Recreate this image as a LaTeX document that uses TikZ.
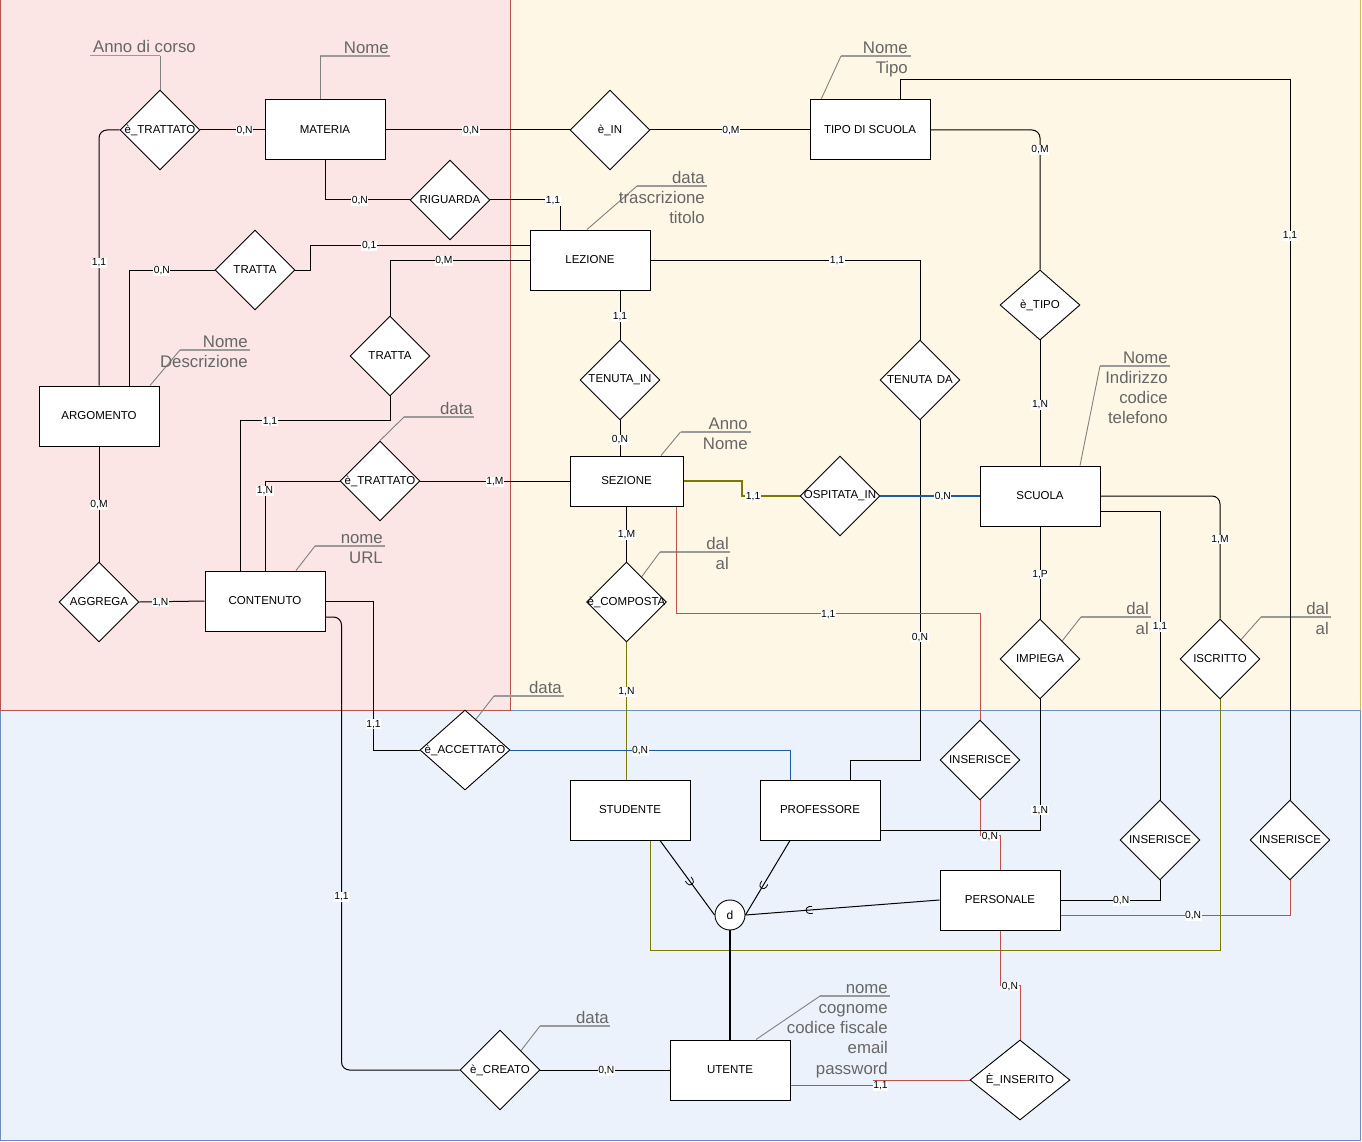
\documentclass[tikz,border=0pt]{standalone}
\usepackage{fontspec}
\setmainfont{Liberation Sans}
\usetikzlibrary{shapes.geometric,calc,decorations.markings}

\definecolor{pinkfill}{HTML}{FBE5E5}
\definecolor{pinkedge}{HTML}{B85450}
\definecolor{yelfill}{HTML}{FFF7E6}
\definecolor{yeledge}{HTML}{D6B656}
\definecolor{bluefill}{HTML}{ECF2FC}
\definecolor{blueedge}{HTML}{6C8EBF}
\definecolor{attrgray}{HTML}{666666}
\definecolor{ulgray}{HTML}{9A9A9A}
\definecolor{leadgray}{HTML}{808080}
\definecolor{olivec}{HTML}{7A7A00}
\definecolor{bluec}{HTML}{1A5CA8}
\definecolor{redc}{HTML}{C0504D}

\pgfdeclarelayer{bg}
\pgfdeclarelayer{edges}
\pgfsetlayers{bg,edges,main}

\tikzset{
  entity/.style={rectangle, draw=black, fill=white, line width=1pt,
    minimum width=120pt, minimum height=60pt, inner sep=0pt,
    font=\fontsize{11.5}{13}\selectfont},
  rel/.style={diamond, draw=black, fill=white, line width=0.9pt,
    minimum width=80pt, minimum height=80pt, inner sep=0pt,
    font=\fontsize{11.5}{13}\selectfont},
  card/.style={fill=white, inner sep=0.6pt, text=black, sharp corners, yshift=-1pt,
    font=\fontsize{10.3}{11}\selectfont},
  ulbox/.style={minimum width=70pt, minimum height=0pt, inner sep=0pt, outer sep=0pt},
  attr/.style={anchor=north east, align=right, inner sep=0pt, text=attrgray,
    font=\fontsize{16.8}{20.2}\selectfont},
  ulline/.style={draw=ulgray, line width=1.6pt},
  leader/.style={draw=leadgray, line width=0.9pt},
  conn/.style={draw=black, line width=1pt},
  subset/.style={postaction={decorate, decoration={markings,
    mark=at position #1 with {\draw[line width=0.8pt, sharp corners]
      (-3pt,3.5pt) -- (0pt,3.5pt) arc[start angle=90, end angle=-90, radius=3.5pt] -- (-3pt,-3.5pt);}}}}
}

\begin{document}
\begin{tikzpicture}[x=1pt, y=-1pt]
\useasboundingbox (0,0) rectangle (1362,1142);

% coloured areas
\begin{pgfonlayer}{bg}
  \filldraw[fill=yelfill, draw=yeledge, line width=1pt] (510,0) rectangle (1360,710);
  \filldraw[fill=bluefill, draw=blueedge, line width=1pt] (0,710) rectangle (1360,1140);
  \filldraw[fill=pinkfill, draw=pinkedge, line width=1pt] (0,0) rectangle (510,710);
\end{pgfonlayer}

% entities
\node[entity] (mat)  at (325,130) {MATERIA};
\node[entity] (tipo) at (870,130) {TIPO DI SCUOLA};
\node[entity] (lez)  at (590,260) {LEZIONE};
\node[entity] (arg)  at (99,416)  {ARGOMENTO};
\node[entity, minimum width=113pt, minimum height=50pt] (sez) at (626.5,481) {SEZIONE};
\node[entity] (scu)  at (1040,496) {SCUOLA};
\node[entity] (cont) at (265,601) {CONTENUTO};
\node[entity] (stud) at (630,810) {STUDENTE};
\node[entity] (prof) at (820,810) {PROFESSORE};
\node[entity] (pers) at (1000,900) {PERSONALE};
\node[entity] (ute)  at (730,1070) {UTENTE};

% relationships
\node[rel] (tr1)  at (160,130)  {\makebox[0pt]{è\_TRATTATO}};
\node[rel] (rig)  at (450,200)  {\makebox[0pt]{RIGUARDA}};
\node[rel] (tra1) at (255,270)  {\makebox[0pt]{TRATTA}};
\node[rel] (ein)  at (610,130)  {\makebox[0pt]{è\_IN}};
\node[rel] (tra2) at (390,356)  {\makebox[0pt]{TRATTA}};
\node[rel] (tr2)  at (380,481)  {\makebox[0pt]{è\_TRATTATO}};
\node[rel] (agg)  at (99,602)   {\makebox[0pt]{AGGREGA}};
\node[rel] (tin)  at (620,380)  {\makebox[0pt]{TENUTA\_IN}};
\node[rel] (tda)  at (920,380)  {\makebox[0pt]{TENUTA\hspace{0.4em}DA}};
\node[rel] (osp)  at (840,496)  {\makebox[0pt]{OSPITATA\_IN}};
\node[rel] (comp) at (626.5,602) {\makebox[0pt]{è\_COMPOSTA}};
\node[rel, minimum height=70pt] (etipo) at (1040,305) {\makebox[0pt]{è\_TIPO}};
\node[rel] (imp)  at (1040,659) {\makebox[0pt]{IMPIEGA}};
\node[rel] (isc)  at (1220,659) {\makebox[0pt]{ISCRITTO}};
\node[rel, minimum width=90pt] (acc) at (465,750) {\makebox[0pt]{è\_ACCETTATO}};
\node[rel] (ins1) at (980,760)  {\makebox[0pt]{INSERISCE}};
\node[rel] (ins2) at (1160,840) {\makebox[0pt]{INSERISCE}};
\node[rel] (ins3) at (1290,840) {\makebox[0pt]{INSERISCE}};
\node[rel, minimum width=100pt] (einsr) at (1020,1080) {\makebox[0pt]{È\_INSERITO}};
\node[rel] (crea) at (500,1070) {\makebox[0pt]{è\_CREATO}};

% specialisation circle
\node[circle, draw=black, fill=white, line width=0.9pt, minimum size=30pt, inner sep=0pt,
      font=\fontsize{12}{13}\selectfont] (d) at (730,915) {d};

% attribute lists
\node[ulbox] (u1)  at (125,55.7) {};
\node[ulbox] (u2)  at (355,56) {};
\node[ulbox] (u3)  at (876,56) {};
\node[ulbox] (u4)  at (672,186) {};
\node[ulbox] (u5)  at (215,350) {};
\node[ulbox] (u6)  at (439,417) {};
\node[ulbox] (u7)  at (350,546) {};
\node[ulbox] (u8)  at (715.5,432) {};
\node[ulbox] (u9)  at (695,552) {};
\node[ulbox] (u10) at (1135,366) {};
\node[ulbox] (u11) at (1116,617) {};
\node[ulbox] (u12) at (1296,617) {};
\node[ulbox] (u13) at (529,696) {};
\node[ulbox] (u14) at (575,1026) {};
\node[ulbox] (u15) at (855,996) {};

\node[attr] (at1)  at (196,39.7) {\rule{0pt}{13pt}Anno di corso};
\node[attr] (at2)  at (389,40)   {\rule{0pt}{13pt}Nome};
\node[attr] (at3)  at (908,40)   {\rule{0pt}{13pt}Nome\\Tipo};
\node[attr] (at4)  at (705,170)  {\rule{0pt}{13pt}data\\trascrizione\\titolo};
\node[attr] (at5)  at (248,334)  {\rule{0pt}{13pt}Nome\\Descrizione};
\node[attr] (at6)  at (473,401)  {\rule{0pt}{13pt}data};
\node[attr] (at7)  at (383,530)  {\rule{0pt}{13pt}nome\\URL};
\node[attr] (at8)  at (748,416)  {\rule{0pt}{13pt}Anno\\Nome};
\node[attr] (at9)  at (729,536)  {\rule{0pt}{13pt}dal\\al};
\node[attr] (at10) at (1168,350) {\rule{0pt}{13pt}Nome\\Indirizzo\\codice\\telefono};
\node[attr] (at11) at (1149,601) {\rule{0pt}{13pt}dal\\al};
\node[attr] (at12) at (1329,601) {\rule{0pt}{13pt}dal\\al};
\node[attr] (at13) at (562,680)  {\rule{0pt}{13pt}data};
\node[attr] (at14) at (609,1010) {\rule{0pt}{13pt}data};
\node[attr] (at15) at (888,980)  {\rule{0pt}{13pt}nome\\cognome\\codice fiscale\\email\\password};

\begin{pgfonlayer}{edges}
  % attribute underlines and leaders
  \foreach \u in {u1,u2,u3,u4,u5,u6,u7,u8,u9,u10,u11,u12,u13,u14,u15}
    \draw[ulline] (\u.west) -- (\u.east);
  \draw[leader] (u1.east) -- (tr1.north);
  \draw[leader] (u2.west) -- ([xshift=-5pt]mat.north);
  \draw[leader] (u3.west) -- ([xshift=-49pt]tipo.north);
  \draw[leader] (u4.west) -- ([xshift=-3pt]lez.north);
  \draw[leader] (u5.west) -- ([xshift=51pt]arg.north);
  \draw[leader] (u6.west) -- (tr2.north);
  \draw[leader] (u7.west) -- ([xshift=31pt]cont.north);
  \draw[leader] (u8.west) -- ([xshift=34.5pt]sez.north);
  \draw[leader] (u9.west) -- ($(comp.north)!0.375!(comp.east)$);
  \draw[leader] (u10.west) -- ([xshift=40pt]scu.north);
  \draw[leader] (u11.west) -- ($(imp.north)!0.55!(imp.east)$);
  \draw[leader] (u12.west) -- ($(isc.north)!0.52!(isc.east)$);
  \draw[leader] (u13.west) -- ($(acc.north)!0.24!(acc.east)$);
  \draw[leader] (u14.west) -- ($(crea.north)!0.52!(crea.east)$);
  \draw[leader] (u15.west) -- ([xshift=26pt]ute.north);

  % connectors
  \draw[conn] (tr1.east) -- node[card,pos=.69]{0,N} (mat.west);
  \draw[conn,rounded corners=8pt] (tr1.west) -| node[card,pos=.758]{1,1} (arg.north);
  \draw[conn] (tra1.west) -| node[card,pos=.308]{0,N} ([xshift=30pt]arg.north);
  \draw[conn] (tra1.east) -- ++(15,0) |- node[card,pos=.634]{0,1} ([yshift=15pt]lez.west);
  \draw[conn] (tra2.north) |- node[card,pos=.693]{0,M} (lez.west);
  \draw[conn] (mat.east) -- node[card,pos=.465]{0,N} (ein.west);
  \draw[conn] (ein.east) -- node[card,pos=.506]{0,M} (tipo.west);
  \draw[conn] (mat.south) |- node[card,pos=.706]{0,N} (rig.west);
  \draw[conn] (rig.east) -| node[card,pos=.45]{1,1} ([xshift=-30pt]lez.north);
  \draw[conn,rounded corners=8pt] (tipo.east) -| node[card,pos=.568]{0,M} (etipo.north);
  \draw[conn] ([xshift=30pt]tipo.north) -- ++(0,-20) -| node[card,pos=.608]{1,1} (ins3.north);
  \draw[conn] (etipo.south) -- node[card,pos=.508]{1,N} (scu.north);
  \draw[conn] ([xshift=30pt]lez.south) -- node[card,pos=.52]{1,1} (tin.north);
  \draw[conn] (tin.south) -- node[card,pos=.53]{0,N} (tin.south |- sez.north);
  \draw[conn] (lez.east) -| node[card,pos=.346]{1,1} (tda.north);
  \draw[conn] (tda.south) -- node[card,pos=.635]{0,N} ++(0,340) -| ([xshift=30pt]prof.north);
  \draw[conn] (tr2.east) -- node[card,pos=.5]{1,M} (sez.west);
  \draw[conn] (tr2.west) -| node[card,pos=.55]{1,N} (cont.north);
  \draw[conn] (tra2.south) -- ++(0,24) -| node[card,pos=.4]{1,1} ([xshift=-25pt]cont.north);
  \draw[conn] (arg.south) -- node[card,pos=.5]{0,M} (agg.north);
  \draw[conn] (agg.east) -- node[card,pos=.32]{1,N} (cont.west);
  \draw[conn,draw=olivec,line width=2pt] (sez.east) -- ++(58,0) |- node[card,pos=.6]{1,1} (osp.west);
  \draw[conn,draw=bluec,line width=2pt] (osp.east) -- node[card,pos=.63]{0,N} (scu.west);
  \draw[conn] (sez.south) -- node[card,pos=.5]{1,M} (comp.north);
  \draw[conn,draw=olivec] (comp.south) -- node[card,pos=.355]{1,N} (comp.south |- stud.north);
  \draw[conn,draw=redc] ([xshift=50pt]sez.south) -- ++(0,107) -| node[card,pos=.25]{1,1} (ins1.north);
  \draw[conn,draw=redc] (ins1.south) -- ++(0,35) -| node[card,pos=.25]{0,N} (pers.north);
  \draw[conn] ([yshift=-20pt]prof.east) -| node[card,pos=.58]{1,N} (imp.south);
  \draw[conn] (scu.south) -- node[card,pos=.51]{1,P} (imp.north);
  \draw[conn] ([yshift=-15pt]scu.east) -| node[card,pos=.699]{1,1} (ins2.north);
  \draw[conn,rounded corners=8pt] (scu.east) -| node[card,pos=.673]{1,M} (isc.north);
  \draw[conn,draw=olivec] (isc.south) -- ++(0,251) -| ([xshift=20pt]stud.south);
  \draw[conn] (ins2.south) |- node[card,pos=.695]{0,N} (pers.east);
  \draw[conn,draw=redc] (ins3.south) |- node[card,pos=.711]{0,N} ([yshift=-15pt]pers.east);
  \draw[conn,draw=redc] (pers.south) -- ++(0,55) -| node[card,pos=.25]{0,N} (einsr.north);
  \draw[conn,draw=redc] ([yshift=-15pt]ute.east) -- node[card,pos=1,xshift=7pt]{1,1} ++(83,0) |- (einsr.west);
  \draw[conn] (crea.east) -- node[card,pos=.51]{0,N} (ute.west);
  \draw[conn,rounded corners=8pt] ([yshift=-16pt]cont.east) -- ++(16,0) |- node[card,pos=.308]{1,1} (crea.west);
  \draw[conn] (cont.east) -- ++(48,0) |- node[card,pos=.41]{1,1} (acc.west);
  \draw[conn,draw=bluec] (acc.east) -| node[card,pos=.232]{0,N} ([xshift=-30pt]prof.north);

  % specialisation of UTENTE
  \draw[conn,subset=.55] ([xshift=30pt]stud.south) -- (d.west);
  \draw[conn,subset=.6] ([xshift=-30pt]prof.south) -- (d.east);
  \draw[conn,subset=.67] (pers.west) -- (d.east);
  \draw[line width=2.6pt] (d.south) -- (ute.north);
\end{pgfonlayer}
\end{tikzpicture}
\end{document}
